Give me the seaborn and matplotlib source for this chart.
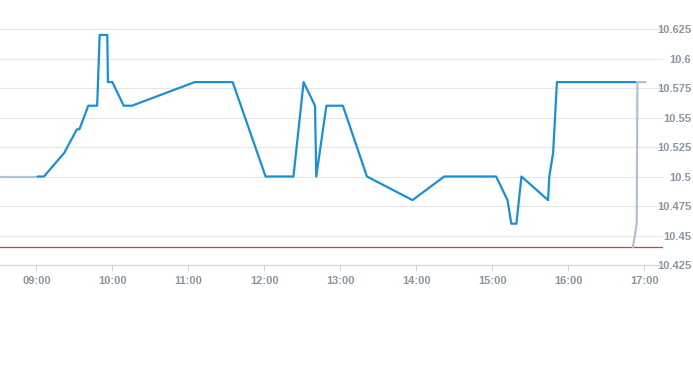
import matplotlib
matplotlib.use("Agg")
import matplotlib.pyplot as plt
import matplotlib.dates as mdates
from matplotlib.ticker import FixedLocator, FixedFormatter
import seaborn as sns
import pandas as pd

DAY = "2024-01-02 "

# Regular session (blue)
session_times = ["09:01", "09:06", "09:22", "09:32", "09:34", "09:41", "09:48", "09:50",
                 "09:56", "09:56:30", "10:00", "10:09", "10:15:30", "11:05", "11:35",
                 "12:01", "12:23", "12:31", "12:40", "12:41", "12:49", "13:02", "13:21",
                 "13:57", "14:22", "15:03", "15:12", "15:15", "15:19", "15:23", "15:44",
                 "15:45", "15:48", "15:51", "16:53"]
session_prices = [10.50, 10.50, 10.52, 10.54, 10.54, 10.56, 10.56, 10.62,
                  10.62, 10.58, 10.58, 10.56, 10.56, 10.58, 10.58,
                  10.50, 10.50, 10.58, 10.56, 10.50, 10.56, 10.56, 10.50,
                  10.48, 10.50, 10.50, 10.48, 10.46, 10.46, 10.50, 10.48,
                  10.50, 10.52, 10.58, 10.58]

# Pre-market (grey)
pre_times = ["08:25", "09:01"]
pre_prices = [10.50, 10.50]

# Post-market (grey)
post_times = ["16:51", "16:54", "16:54:30", "17:01"]
post_prices = [10.44, 10.46, 10.58, 10.58]

prev_close = 10.44

y_ticks = [10.425, 10.45, 10.475, 10.5, 10.525, 10.55, 10.575, 10.6, 10.625]
y_tick_labels = ["10.425", "10.45", "10.475", "10.5", "10.525", "10.55", "10.575", "10.6", "10.625"]
x_tick_hours = ["09:00", "10:00", "11:00", "12:00", "13:00", "14:00", "15:00", "16:00", "17:00"]


def ts(t):
    return pd.Timestamp(DAY + t)


def frame(times, prices):
    return pd.DataFrame({"time": [ts(t) for t in times], "price": prices})


session = frame(session_times, session_prices)
pre = frame(pre_times, pre_prices)
post = frame(post_times, post_prices)

sns.set_style("white")
plt.rcParams["font.family"] = ["Liberation Sans", "DejaVu Sans"]

fig = plt.figure(figsize=(6.93, 3.65), dpi=100)
ax = fig.add_axes([0, 100 / 365, 663 / 693, 265 / 365])

grid_c = "#e6e6e6"
label_c = "#8a95a1"

sns.lineplot(data=pre, x="time", y="price", ax=ax, color="#b3c1cf", lw=1.6,
             sort=False, estimator=None)
sns.lineplot(data=post, x="time", y="price", ax=ax, color="#b3c1cf", lw=1.6,
             sort=False, estimator=None)
sns.lineplot(data=session, x="time", y="price", ax=ax, color="#1a8fd6", lw=1.6,
             sort=False, estimator=None)
ax.axhline(prev_close, color="#d0403a", lw=0.9, zorder=1)

ax.set_xlim(ts("08:31:18"), ts("17:14:45"))
ax.set_ylim(10.425, 10.6496)

ax.yaxis.tick_right()
ax.yaxis.set_major_locator(FixedLocator(y_ticks))
ax.yaxis.set_major_formatter(FixedFormatter(y_tick_labels))
ax.tick_params(axis="y", length=0, pad=20.2, labelsize=8.0, labelcolor=label_c)
for lab in ax.get_yticklabels():
    lab.set_horizontalalignment("right")
    lab.set_fontweight("bold")

x_ticks = [mdates.date2num(ts(h)) for h in x_tick_hours]
ax.xaxis.set_major_locator(FixedLocator(x_ticks))
ax.xaxis.set_major_formatter(FixedFormatter(x_tick_hours))
ax.tick_params(axis="x", length=4, width=0.8, color="#ccd6eb", pad=4,
               labelsize=8.0, labelcolor=label_c, bottom=True)
for lab in ax.get_xticklabels():
    lab.set_fontweight("bold")

ax.grid(axis="y", color=grid_c, lw=0.8)
ax.grid(axis="x", visible=False)
ax.set_axisbelow(True)
for side in ["top", "left", "right"]:
    ax.spines[side].set_visible(False)
ax.spines["bottom"].set_color("#ccd6eb")
ax.spines["bottom"].set_linewidth(0.8)
ax.set_xlabel("")
ax.set_ylabel("")

fig.savefig("out.png", dpi=100)
